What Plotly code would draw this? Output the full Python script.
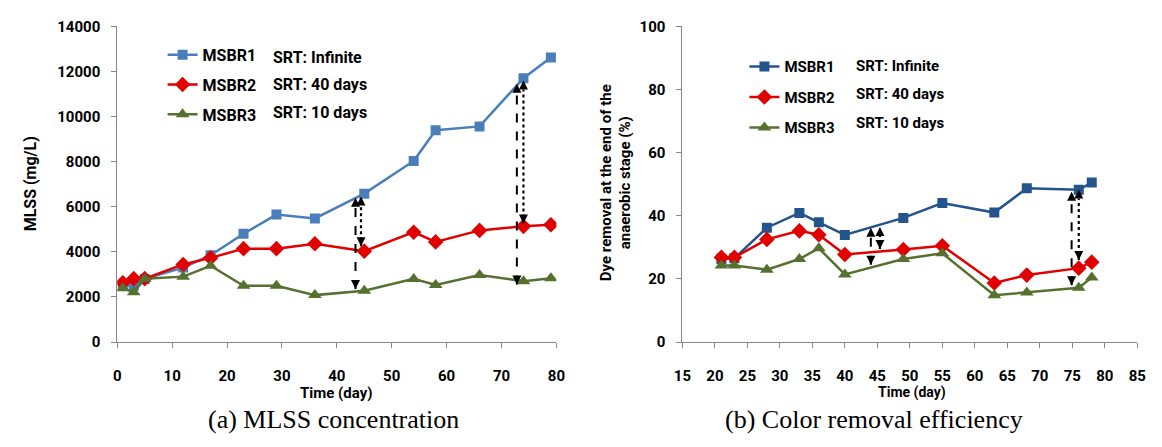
import plotly.graph_objects as go

# ---------------- data ----------------
days_a = [1, 3, 5, 12, 17, 23, 29, 36, 45, 54, 58, 66, 74, 79]
mlss_msbr1 = [2480, 2500, 2800, 3300, 3850, 4800, 5650, 5480, 6580, 8030, 9390, 9560, 11700, 12620]
mlss_msbr2 = [2630, 2810, 2810, 3440, 3730, 4140, 4140, 4360, 4030, 4870, 4440, 4950, 5130, 5200]
mlss_msbr3 = [2390, 2210, 2810, 2900, 3380, 2490, 2490, 2080, 2270, 2800, 2530, 2970, 2700, 2830]

days_b = [21, 23, 28, 33, 36, 40, 49, 55, 63, 68, 76, 78]
dye_msbr1 = [26.3, 26.5, 36.2, 40.9, 37.9, 33.9, 39.3, 44.0, 41.0, 48.7, 48.2, 50.5]
dye_msbr2 = [26.8, 26.8, 32.5, 35.2, 34.0, 27.7, 29.3, 30.5, 18.7, 21.2, 23.4, 25.3]
dye_msbr3 = [24.2, 24.2, 22.9, 26.3, 29.7, 21.4, 26.3, 28.1, 14.8, 15.7, 17.2, 20.4]

series_names = ["MSBR1", "MSBR2", "MSBR3"]
srt_labels = ["SRT: Infinite", "SRT: 40 days", "SRT: 10 days"]

# double-headed arrows: day, low value, high value, style
arrows_a_x = [43.4, 44.4, 72.8, 74.0]
arrows_a_lo = [2350, 4250, 2550, 5250]
arrows_a_hi = [6400, 6450, 11450, 11600]
arrows_b_x = [44.0, 45.4, 74.9, 76.0]
arrows_b_lo = [24.5, 29.5, 18.0, 26.0]
arrows_b_hi = [36.2, 36.4, 47.6, 48.3]
arrow_dash = ["dash", "dot", "dash", "dot"]

x_ticks_a = list(range(0, 81, 10))
y_ticks_a = list(range(0, 14001, 2000))
x_ticks_b = list(range(15, 86, 5))
y_ticks_b = list(range(0, 101, 20))

# ---------------- style ----------------
W, H = 1162, 447
FONT = "Roboto"
blue_a = "#4A7EBB"
blue_b = "#24548E"
red = "#E00000"
green = "#55702F"
axis_col = "#868686"


def px_x(p):
    return p / W


def px_y(p):
    return 1 - p / H


def bfont(size):
    return dict(family=FONT, size=size, color="black", weight="bold")


fig = go.Figure()

symbols = ["square", "diamond", "triangle-up"]
sizes = [10, 12, 12]

for name, vals, col, sym, sz in zip(series_names, [mlss_msbr1, mlss_msbr2, mlss_msbr3],
                                    [blue_a, red, green], symbols, sizes):
    fig.add_trace(go.Scatter(
        x=days_a, y=vals, name=name, mode="lines+markers",
        line=dict(color=col, width=2.5),
        marker=dict(symbol=sym, size=sz, color=col),
        xaxis="x", yaxis="y", legend="legend", legendgroup="a" + name,
    ))

for name, vals, col, sym, sz in zip(series_names, [dye_msbr1, dye_msbr2, dye_msbr3],
                                    [blue_b, red, green], symbols, sizes):
    fig.add_trace(go.Scatter(
        x=days_b, y=vals, name=name, mode="lines+markers",
        line=dict(color=col, width=2.5),
        marker=dict(symbol=sym, size=sz, color=col),
        xaxis="x2", yaxis="y2", legend="legend2", legendgroup="b" + name,
    ))


def add_arrows(xs, los, his, xa, ya):
    for x, lo, hi, d in zip(xs, los, his, arrow_dash):
        fig.add_trace(go.Scatter(
            x=[x, x], y=[lo, hi], mode="lines+markers",
            line=dict(color="black", width=2 if d == "dash" else 2.2, dash=d),
            marker=dict(symbol=["arrow-down", "arrow-up"], size=9, color="black"),
            xaxis=xa, yaxis=ya, showlegend=False, hoverinfo="skip",
        ))


add_arrows(arrows_a_x, arrows_a_lo, arrows_a_hi, "x", "y")
add_arrows(arrows_b_x, arrows_b_lo, arrows_b_hi, "x2", "y2")

axis_common = dict(
    showgrid=False, zeroline=False, showline=True, linecolor=axis_col, linewidth=1,
    ticks="outside", ticklen=5, tickcolor=axis_col, tickfont=bfont(15), tickformat="d",
)

fig.update_layout(
    width=W, height=H,
    margin=dict(l=0, r=0, t=0, b=0),
    paper_bgcolor="white", plot_bgcolor="white",
    xaxis=dict(domain=[px_x(110), px_x(556)], range=[0, 80], tickvals=x_ticks_a,
               anchor="y", ticklabelstandoff=15, **axis_common),
    yaxis=dict(domain=[1 - 347 / H, 1 - 18 / H], range=[0, 14000], tickvals=y_ticks_a,
               anchor="x", ticklabelstandoff=8, **axis_common),
    xaxis2=dict(domain=[px_x(684), px_x(1146)], range=[15, 85], tickvals=x_ticks_b,
                anchor="y2", ticklabelstandoff=15, **axis_common),
    yaxis2=dict(domain=[1 - 347 / H, 1 - 18 / H], range=[0, 100], tickvals=y_ticks_b,
                anchor="x2", ticklabelstandoff=8, **axis_common),
    legend=dict(x=px_x(156), y=px_y(30), xanchor="left", yanchor="top",
                font=bfont(16), bgcolor="rgba(0,0,0,0)", tracegroupgap=6, itemwidth=30),
    legend2=dict(x=px_x(747), y=px_y(43), xanchor="left", yanchor="top",
                 font=bfont(15), bgcolor="rgba(0,0,0,0)", tracegroupgap=8, itemwidth=30),
    showlegend=True,
)

ann = []
for i, lab in enumerate(srt_labels):
    ann.append(dict(text=lab, x=px_x(266), y=px_y([51, 79, 108][i]), xref="paper", yref="paper",
                    xanchor="left", yanchor="middle", showarrow=False, font=bfont(16)))
    ann.append(dict(text=lab, x=px_x(858), y=px_y([59, 89, 119][i]), xref="paper", yref="paper",
                    xanchor="left", yanchor="middle", showarrow=False, font=bfont(15)))

ann += [
    dict(text="Time (day)", x=px_x(333), y=px_y(400), xref="paper", yref="paper",
         showarrow=False, xanchor="center", yanchor="middle", font=bfont(15)),
    dict(text="Time (day)", x=px_x(917), y=px_y(400), xref="paper", yref="paper",
         showarrow=False, xanchor="center", yanchor="middle", font=bfont(14)),
    dict(text="MLSS (mg/L)", x=px_x(22), y=px_y(182), xref="paper", yref="paper",
         showarrow=False, textangle=-90, xanchor="center", yanchor="middle", font=bfont(16)),
    dict(text="Dye removal at the end of the<br>anaerobic stage (%)", x=px_x(616), y=px_y(181),
         xref="paper", yref="paper", showarrow=False, textangle=-90,
         xanchor="center", yanchor="middle", font=bfont(15)),
    dict(text="(a) MLSS concentration", x=px_x(330), y=px_y(428), xref="paper", yref="paper",
         showarrow=False, xanchor="center", yanchor="middle",
         font=dict(family="Liberation Serif", size=26, color="black")),
    dict(text="(b) Color removal efficiency", x=px_x(879), y=px_y(428), xref="paper", yref="paper",
         showarrow=False, xanchor="center", yanchor="middle",
         font=dict(family="Liberation Serif", size=26, color="black")),
]
fig.update_layout(annotations=ann)

fig.write_html("out.html")
